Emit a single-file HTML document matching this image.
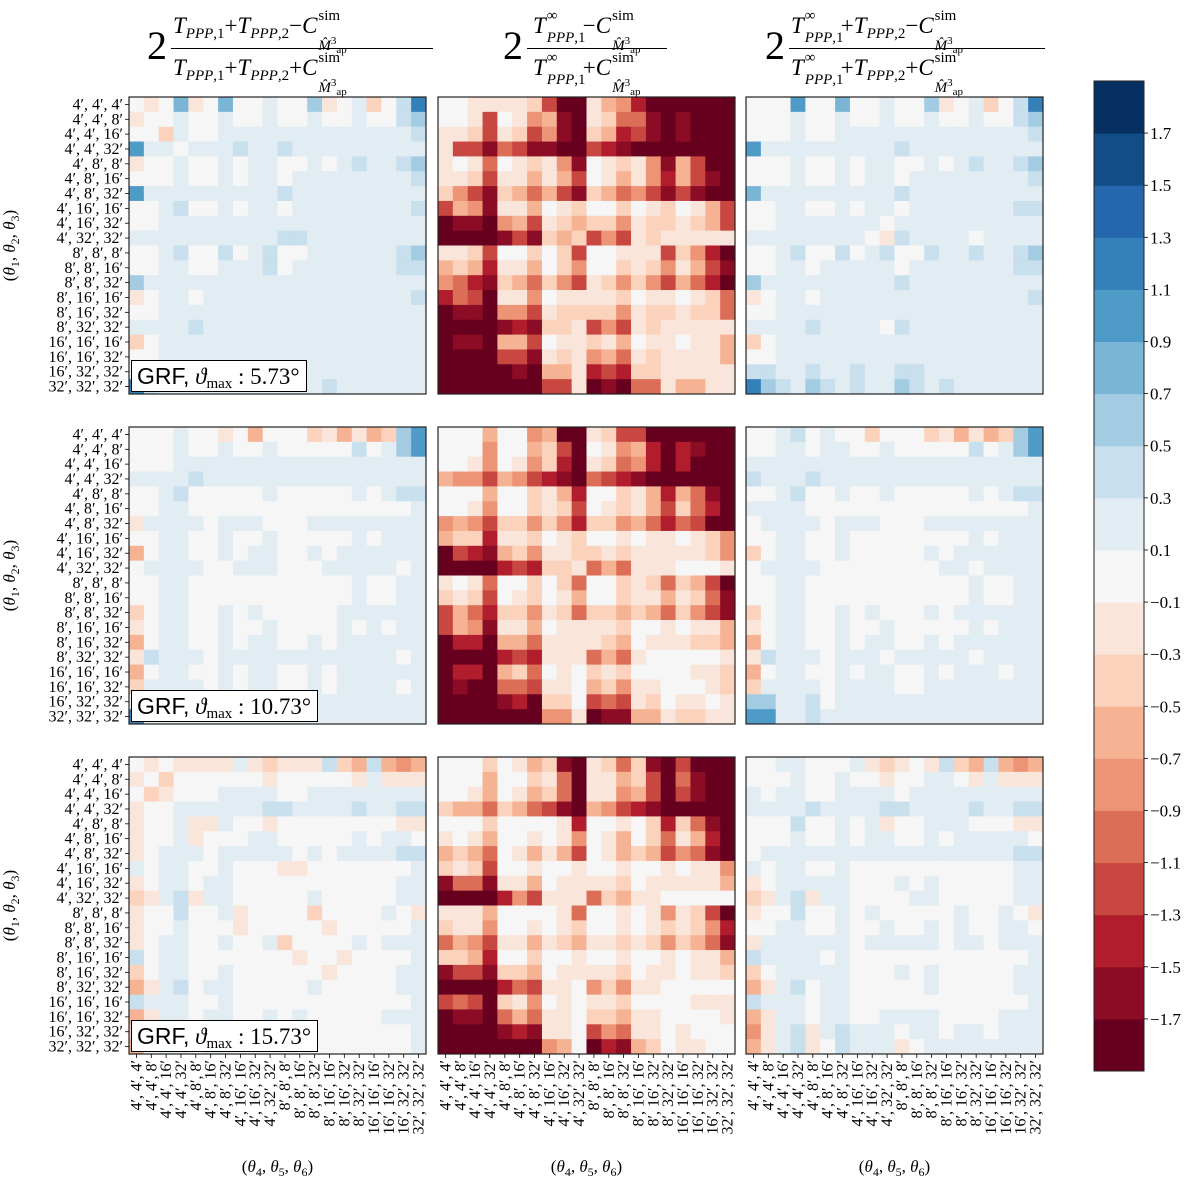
<!DOCTYPE html>
<html><head><meta charset="utf-8">
<style>
html,body{margin:0;padding:0;background:#fff;}
body{width:1200px;height:1182px;position:relative;overflow:hidden;font-family:"Liberation Serif",serif;}
svg{position:absolute;left:0;top:0;}
.title{position:absolute;top:0;height:96px;color:#000;font-family:"Liberation Serif",serif;}
.two{position:absolute;left:0;top:26px;font-size:40px;line-height:40px;}
.num,.den{position:absolute;left:26px;font-size:23px;line-height:23px;white-space:nowrap;}
.num{top:14px;}
.den{top:56px;}
.bar{position:absolute;left:24px;top:48px;height:0;border-top:1.5px solid #000;}
.num sub,.den sub{font-size:15px;vertical-align:-5px;}
.ss{display:inline-block;position:relative;width:36px;height:0;vertical-align:baseline;}
.ss .sp{position:absolute;left:1px;top:-24px;font-size:15px;line-height:15px;}
.ss .sb{position:absolute;left:1px;top:1px;font-size:15px;line-height:15px;white-space:nowrap;}
.ss .sb sup{font-size:11px;vertical-align:6px;}
.ss .sb sub{font-size:11px;vertical-align:-3px;}
.ss.t{width:37px;}
.ss.t .sb{top:-2px;font-size:15px;}
.legend{position:absolute;background:#fff;border:1.5px solid #000;font-size:23px;height:30px;line-height:30px;padding:0 6px 0 5px;white-space:nowrap;}
.legend .s{font-family:"Liberation Sans",sans-serif;}
.legend sub{font-size:15px;vertical-align:-4px;}
</style></head>
<body>
<svg id="chart" width="1200" height="1182" viewBox="0 0 1200 1182" xmlns="http://www.w3.org/2000/svg"></svg>

<div class="title" style="left:147px;">
 <span class="two">2</span>
 <div class="num"><i>T</i><sub><i>PPP</i>,1</sub>+<i>T</i><sub><i>PPP</i>,2</sub>−<i>C</i><span class="ss"><span class="sp">sim</span><span class="sb"><i>M̂</i><sup>3</sup><sub>ap</sub></span></span></div>
 <div class="bar" style="width:262px"></div>
 <div class="den"><i>T</i><sub><i>PPP</i>,1</sub>+<i>T</i><sub><i>PPP</i>,2</sub>+<i>C</i><span class="ss"><span class="sp">sim</span><span class="sb"><i>M̂</i><sup>3</sup><sub>ap</sub></span></span></div>
</div>
<div class="title" style="left:503px;">
 <span class="two">2</span>
 <div class="num" style="left:30px"><i>T</i><span class="ss t"><span class="sp">∞</span><span class="sb"><i>PPP</i>,1</span></span>−<i>C</i><span class="ss"><span class="sp">sim</span><span class="sb"><i>M̂</i><sup>3</sup><sub>ap</sub></span></span></div>
 <div class="bar" style="width:140px"></div>
 <div class="den" style="left:30px"><i>T</i><span class="ss t"><span class="sp">∞</span><span class="sb"><i>PPP</i>,1</span></span>+<i>C</i><span class="ss"><span class="sp">sim</span><span class="sb"><i>M̂</i><sup>3</sup><sub>ap</sub></span></span></div>
</div>
<div class="title" style="left:765px;">
 <span class="two">2</span>
 <div class="num"><i>T</i><span class="ss t"><span class="sp">∞</span><span class="sb"><i>PPP</i>,1</span></span>+<i>T</i><sub><i>PPP</i>,2</sub>−<i>C</i><span class="ss"><span class="sp">sim</span><span class="sb"><i>M̂</i><sup>3</sup><sub>ap</sub></span></span></div>
 <div class="bar" style="width:256px"></div>
 <div class="den"><i>T</i><span class="ss t"><span class="sp">∞</span><span class="sb"><i>PPP</i>,1</span></span>+<i>T</i><sub><i>PPP</i>,2</sub>+<i>C</i><span class="ss"><span class="sp">sim</span><span class="sb"><i>M̂</i><sup>3</sup><sub>ap</sub></span></span></div>
</div>

<div class="legend" style="left:131px;top:360px;"><span class="s">GRF,</span> <i>ϑ</i><sub>max</sub> : 5.73°</div>
<div class="legend" style="left:131px;top:690px;"><span class="s">GRF,</span> <i>ϑ</i><sub>max</sub> : 10.73°</div>
<div class="legend" style="left:131px;top:1020px;"><span class="s">GRF,</span> <i>ϑ</i><sub>max</sub> : 15.73°</div>

<script>
// Triplet categories (both axes)
const categories = ["4′, 4′, 4′","4′, 4′, 8′","4′, 4′, 16′","4′, 4′, 32′","4′, 8′, 8′","4′, 8′, 16′","4′, 8′, 32′","4′, 16′, 16′","4′, 16′, 32′","4′, 32′, 32′","8′, 8′, 8′","8′, 8′, 16′","8′, 8′, 32′","8′, 16′, 16′","8′, 16′, 32′","8′, 32′, 32′","16′, 16′, 16′","16′, 16′, 32′","16′, 32′, 32′","32′, 32′, 32′"];
// Colorbar tick labels and level boundaries
const cbarTicks = [1.7,1.5,1.3,1.1,0.9,0.7,0.5,0.3,0.1,-0.1,-0.3,-0.5,-0.7,-0.9,-1.1,-1.3,-1.5,-1.7];
const cbarMin = -1.9, cbarMax = 1.9, cbarStep = 0.2;
// Cell values encoded: A=-1.8, B=-1.6 ... J=0 ... S=1.8 (value = -1.8 + 0.2*k)
const valsR1C1 = ["JIJNIJNJJKJJMIJKHJLP","IJJKJJKJJKJJKJJKJJLM","JJHKJJKKKKKKKKKKKKKL","OKKJKKKLKKLKKKKKKKKK","IJJKJJKJKKJJKJKLKKLM","JJJKJJKJKKJKKKKKKKKL","OKKKKKKKKKLKKKKKKKKK","JJKLJJKJKKJKKKKKKKKL","JJKKKKKKKKKKKKKKKKKK","KKKKKKKKKKLLKKKKKKKK","JJKLJJLJKLJJKKKKKKLM","JJKKJJKKKLJKKKKKKKLL","MKKKKKKKKKKKKKKKKKKK","IJKKJKKKKKKKKKKKKKKL","JJKKKKKKKKKKKKKKKKKK","KKKKLKKKKKKKKKKKKKKK","HJKKKKKKKKKKKKKKKKKK","JJKKKKKKKKKKKKKKKKKK","JJKKKKKKKKKKKKKKKKKK","PLKKKKKKKKKKKLKKKKKK"];
const valsR1C2 = ["JJIIIIHDAAIGFCAAAAAA","JJIDJIFGBAIHEEBABAAA","IIHDIHDFBAHGCDBABAAA","IDDBEDBBAADCBAAAAAAA","IJIEJIHIFBJIHIFBGDAA","IIHDIIGIGDJIGIFCGDBA","HFDBHGEGDBHGEFDBDBAA","DGFBIIGJIHJJHJIHJIGD","ABBAFGDIHGHHFIHHIHGD","AAAABDBHGHDFDIHIIIII","IIHDJJHJHDJJIIIDHFCA","GHGCIIGJHFJJHIHFIGDB","FECBHGEHFDIHFHFDGECA","CEDAIIFJIIIIHJIIJIHE","ABBAFFDIHHHHFIHHIHHE","AAAABCBHHIDFDIHIIIII","ABBAGGDJIIHIGJIIJIIG","AAAADDBIHIFGEIHIIIIG","AAAAABAGGICDCHHIIIII","AAAAAAADDIABAEEIGGII"];
const valsR1C3 = ["JJJOJJNJJKJJMIJKHJLP","JJJKJJKJJKJJKJJKJJLM","JJJKJJKKKKKKKKKKKKKL","OKKKKKKKKKLKKKKKKKKK","JJJKJJKJKKJJKJKLKKLM","JJJKJJKJKKJKKKKKKKKL","NKKKKKKKKKLKKKKKKKKK","JJKKJJKJKKJKKKKKKKLL","JJKKKKKKKJKKKKKKKKKK","KKKKKKKKJILKKKKJKKKK","JJKLJJLJKLJJLKKLKKLM","JJKKJKKKKKJKKKKKKKLL","MKKKKKKKKKLKKKKKKKKK","IJKKJKKKKKKKKKKKKKKL","JJKKKKKKKKKKKKKKKKKK","KKKKLKKKKJLKKKKKKKKK","HJKKKKKKKKKKKKKKKKKK","JJKKKKKKKKKKKKKKKKKK","LLKKLKKLKKLLKKKKKKKK","PMLKMLKLKKMLKLKKKKKK"];
const valsR2C1 = ["JJJKJJIJGJJJHIGIGHMO","JJJKJJKJJKJJJJJLJKMO","JJJKKKKKKKKKKKKKKKKK","KKKKLKKKKKKKKKKKKKKK","JJKLJJJJJKJJJJJKJKLL","JJKKJJJJJJJJJJJJJJJK","IKKKKJKKKJJJKKKKKKKK","JJKKJJKJJKJJJJJKJKKK","GJKKJJKJKKJJKJKKKKKK","JKKKKJJKKKJJJKKKKKJK","JJKKJJJJJJJJJJJKJJKK","JJKKJJJJJJJJJJJKJJKK","HJKKJJKJKJJJJJKKKKKK","IJKKJJKJJKJJJJKJKJKK","GJKKJJKJKKJJKJKKKKKK","ILKKKJKKKKKKKKKKKKJK","GJKKJJKJKKJJKJKKKKKK","HKKKKJKJKKJJKJKKKKJK","JJKKKKKKKKKKKKKKKKKK","PKKKKKKKKKKKKKKKKKKK"];
const valsR2C2 = ["JJJGJJFGAAIHDDAAAAAA","JJJFJJGHDAJIFGCACBAA","JJIFJIFHCAIHEFCACAAA","GFFDGFDCBAEDCBAAAAAA","JJJGJJHIGCJJHIGCGEBA","JJIFJJHIHDJIHIGDHECA","FGFDHHFHFCHHFGECEDAA","GHHCIIHJIHJJIJIIJIHF","ADCBGHFIIHHIHIIIIIHF","AAAACDCHHIEGEIIIJJJI","IJIEJJHJHEJJHIHEHGDA","HIHDJIHJIGJJHIIGIHEB","DGECHHFIHEHHGHGEHFDB","DGFBIIGJIIIIHJJIJIIG","ACCAGGEIIIIHGJIIIHHG","AAAACDCIIIEGEIJJJJJI","ACCAGHEJIJHIHJJJJIIH","ABAAEEDIIJGHFIIJJJIH","AAAABCAHHJDEDIHJIIJI","AAAAAAAFFIABBGGIHHII"];
const valsR2C3 = ["JJKLJKJJHJJJHIGIGHMO","JJKKJKKJJKJJJJJLJKMO","KKKKKKKKKKKKKKKKKKKK","LKKKLKKKKKKKKKKKKKKK","JJKLJJKJJKJJJJJKJKLL","KKKKJJJJJJJJJJJJJJJK","JKKKKJKKKJJJKKKKKKKK","JJKKJJKJJJJJJJJKJKKK","HJKKJJKJJJJJKJKKKKKK","JKKKKJJJJJJJJKKJKKKK","JJKKJJJJJJJJJJJKJJKK","JJKKJJJJJJJJJJJKJJKK","HJKKJJKJKJJJKJKKKKKK","IJKKJJKJJKJJJJJKJKKK","GJKKJJKJKKJJKJKKKKKK","ILKKKJKKKJKKKKKJKKKK","GJKKJJKJKKJJKJKKKJKK","HKKKKJKKKKJJKKKKKKKK","MMKKLJKKKKKKKKKKKKKK","OOKKLKKKKKKKKKKKKKKK"];
const valsR3C1 = ["JIJIIIIKIHIIILHGLGFG","IJHJJJJJJIJJJJJIKIII","JHIJJJKKKKJJKKKKKKKK","IJJKKKKKKLLKKKKLKKLL","IJJKIIKJJIJJJJJJJJII","IJJKIJJJKKJJJJJKJKKJ","IJKKKJKKKKKJKJKKKKLL","KJKKJJKJJJIIJJJJJJJK","IJKKJKKJJJJJJJJJJJKK","HIKLIKKJJJJJKJJJJJKK","IJJLJJKIJJJJHJJJJKJI","IJJKJJJIJJJJJIJJJJJK","IJKKJJKJJKHJJJJKJKKK","LJKKJJJJJJJIJJIJJJJK","HJKKJJKJJJJJJIJJJJKK","GIKLJKKJJJJJKJJJJJKK","LKKKJJKJJJJJJJJJJJJK","GIKKJKKJJKJKJJJJJKKK","HJKKJKKJJJJJJJJJJJJK","GJKKJKKJJJJJJJJJJJJK"];
const valsR3C2 = ["JJJHJIGHBAIHEHBADAAA","JJJGJJHIEAIIGHDAEBAA","JJIGJIGHEAIIFGDADBAA","HGGEHGEDBAGFDCBAAAAA","JJJHJJJJICJJIJHCHEBA","IJIGJJIJIFJIGJHEIGCA","GHGEJIGIGDJIGHGDFEBA","HIHDJJIJJIJJIJJIJIIF","BEEBIIGJIIIIHJIIIIIG","AAAACFDIIIEHGIIJJJJJ","IIIGJJJJIEJJIJIFIHDA","HIIFJJIJIHJJIJIHIHFC","EGFDIIGIHGIIHIHFHGEB","HHGCJJHJJIJJIJJIJIIG","BDDBHHGJIIIIHJIIJIIH","AAAACEDIIJFHFIIJJJJJ","DEDAHIFJIJIIHJJJJIII","ABBAEGEIIJHHGIIJJJJI","AAAABCBIIJDFEIIJIJJJ","AAAAAAAFGJACBGHJIIJJ"];
const valsR3C3 = ["JJKKJJJKIHIJILHGLGFG","JJJKJJKJJIJJKKJIKIII","KJKKJJKKKKJKKKKKKKKK","KKKKLKKKKLLKKKKLKKLL","JJJLJJKJKIJJKKKJJJII","JJJKJJKJKKJJKJKKKKKJ","JKKKKKKKKKKKKKKKKKLL","KJKKJJKJJJJJJJJJJJKK","IJKKKKKJJJKJKJJJJJKK","HIKLIKKJJJJKKJJJJJKK","IJJLJJKJKJJJJJKJJKJI","JJKKJJKJJKJJKJKJJKKJ","IKKKKKKJKKKKKJKKJKKK","LKKKKJKJJJJJJJJJJJJK","HJKKKKKJJJKJKJJJJJKK","GIKLJKKJJJJJKJJJJJKK","LKKKJKKJJJJJJJJJJJJK","GIKKJKKJJKKKKJJJJKKK","FIKLIKLKKKJKKJKKJKKK","GIKLIJLKKKIJKKKKKKKK"];

const panelVals = [[valsR1C1,valsR1C2,valsR1C3],[valsR2C1,valsR2C2,valsR2C3],[valsR3C1,valsR3C2,valsR3C3]];
// RdBu_r discrete colors, low -> high
const palette = ["#67001f","#8c0c25","#b11d2c","#c94741","#dc6e57","#ec9475","#f6b394","#fbd2bc","#f9e5da","#f6f6f6","#e1ecf3","#c8dfed","#a3cce3","#7ab5d6","#4f9bc7","#3480b9","#2467ad","#144c88","#053061"];

const NS = "http://www.w3.org/2000/svg";
const svgRoot = document.getElementById('chart');
const panelX = [129, 438, 746], panelY = [97, 427, 757], PS = 297, N = 20, cw = PS / N;
function decode(ch){ if (!ch) return 0; return -1.8 + 0.2 * (ch.charCodeAt(0) - 65); }
function colorOf(v){ let k = Math.floor((v - cbarMin) / cbarStep + 1e-6); k = Math.max(0, Math.min(palette.length - 1, k)); return palette[k]; }
function xScale(c, col){ return panelX[col] + c * cw; }
function yScale(r, row){ return panelY[row] + r * cw; }
function mk(tag, attrs){ const e = document.createElementNS(NS, tag); for (const k in attrs) e.setAttribute(k, String(attrs[k])); return e; }
function cbarY(v){ return 81 + (cbarMax - v) / (cbarMax - cbarMin) * (1071 - 81); }

// Colorbar
const cbarGroup = mk('g', {});


for (let k = 0; k < palette.length; k++) {
  const lo = cbarMin + k * cbarStep, hi = lo + cbarStep;
  const band = mk('rect', {x: 1094, y: cbarY(hi).toFixed(2), width: 50, height: (cbarY(lo) - cbarY(hi) + 0.5).toFixed(2), fill: palette[k]});
  
  
  cbarGroup.appendChild(band);
}
cbarGroup.appendChild(mk('rect', {x: 1094, y: 81, width: 50, height: 990, fill: 'none', stroke: '#222', 'stroke-width': 1}));
for (let i = 0; i < cbarTicks.length; i++) {
  const v = cbarTicks[i];
  const ty = cbarY(v);
  cbarGroup.appendChild(mk('line', {x1: 1144, x2: 1148, y1: ty, y2: ty, stroke: '#000', 'stroke-width': 0.8}));
  const lab = mk('text', {x: 1150, y: ty + 6, 'font-size': 17, 'font-family': 'Liberation Serif, serif'});
  
  
  lab.textContent = (v < 0 ? '−' : '') + Math.abs(v).toFixed(1);
  cbarGroup.appendChild(lab);
}
svgRoot.appendChild(cbarGroup);

for (let pr = 0; pr < 3; pr++) {
  for (let pc = 0; pc < 3; pc++) {
    const g = mk('g', {});
    
    
    const rows = panelVals[pr][pc];
    for (let r = 0; r < N; r++) {
      for (let c = 0; c < N; c++) {
        const v = decode(rows[r][c]);
        const rect = mk('rect', {x: xScale(c, pc).toFixed(2), y: yScale(r, pr).toFixed(2), width: (cw + 0.4).toFixed(2), height: (cw + 0.4).toFixed(2), fill: colorOf(v)});
        
        
        g.appendChild(rect);
      }
    }
    const fr = mk('rect', {x: panelX[pc], y: panelY[pr], width: PS, height: PS, fill: 'none', stroke: '#222', 'stroke-width': 1.2});
    
    
    g.appendChild(fr);
    svgRoot.appendChild(g);
  }
}

// Y tick labels & ticks on left panels
for (let pr = 0; pr < 3; pr++) {
  for (let r = 0; r < N; r++) {
    const yc = yScale(r, pr) + cw / 2;
    svgRoot.appendChild(mk('line', {x1: panelX[0] - 4, x2: panelX[0], y1: yc, y2: yc, stroke: '#000', 'stroke-width': 0.8}));
    const t = mk('text', {x: panelX[0] - 6, y: yc + 5, 'text-anchor': 'end', 'font-size': 16, 'font-family': 'Liberation Serif, serif'});
    
    
    t.textContent = categories[r];
    svgRoot.appendChild(t);
  }
  const yt = mk('text', {x: 0, y: 0, 'text-anchor': 'middle', 'font-size': 17, 'font-family': 'Liberation Serif, serif', transform: 'translate(15,' + (panelY[pr] + PS / 2) + ') rotate(-90)'});
  
  
  yt.innerHTML = '(<tspan font-style="italic">θ</tspan><tspan font-size="12" dy="4">1</tspan><tspan dy="-4">, </tspan><tspan font-style="italic">θ</tspan><tspan font-size="12" dy="4">2</tspan><tspan dy="-4">, </tspan><tspan font-style="italic">θ</tspan><tspan font-size="12" dy="4">3</tspan><tspan dy="-4">)</tspan>';
  svgRoot.appendChild(yt);
}
// X tick labels under bottom row
for (let pc = 0; pc < 3; pc++) {
  const yb = panelY[2] + PS;
  for (let c = 0; c < N; c++) {
    const xc = xScale(c, pc) + cw / 2;
    svgRoot.appendChild(mk('line', {x1: xc, x2: xc, y1: yb, y2: yb + 4, stroke: '#000', 'stroke-width': 0.8}));
    const t = mk('text', {x: 0, y: 0, 'text-anchor': 'end', 'font-size': 16, 'font-family': 'Liberation Serif, serif', transform: 'translate(' + (xc + 5) + ',' + (yb + 6) + ') rotate(-90)'});
    
    
    t.textContent = categories[c];
    svgRoot.appendChild(t);
  }
  const xt = mk('text', {x: panelX[pc] + PS / 2, y: 1172, 'text-anchor': 'middle', 'font-size': 17, 'font-family': 'Liberation Serif, serif'});
  
  
  xt.innerHTML = '(<tspan font-style="italic">θ</tspan><tspan font-size="12" dy="4">4</tspan><tspan dy="-4">, </tspan><tspan font-style="italic">θ</tspan><tspan font-size="12" dy="4">5</tspan><tspan dy="-4">, </tspan><tspan font-style="italic">θ</tspan><tspan font-size="12" dy="4">6</tspan><tspan dy="-4">)</tspan>';
  svgRoot.appendChild(xt);
}
</script>
</body></html>
